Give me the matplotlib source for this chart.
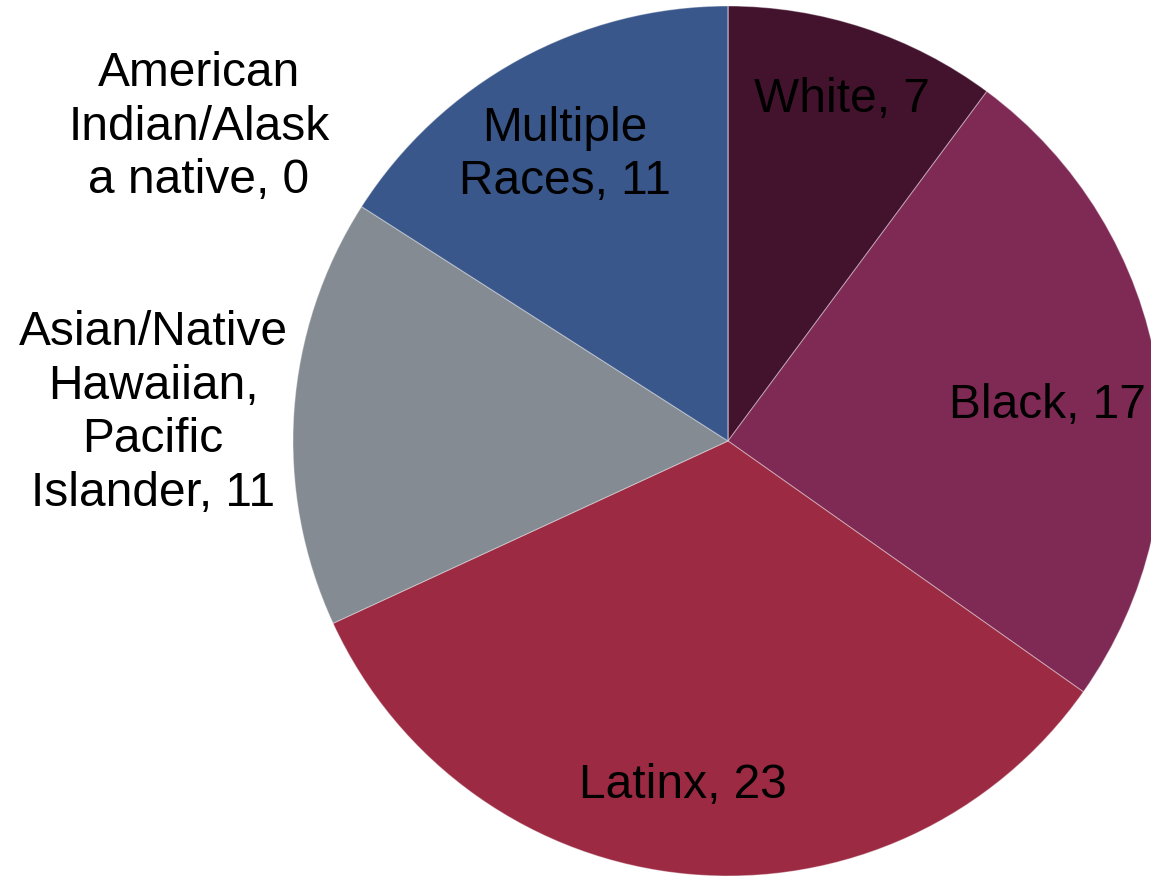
import matplotlib
matplotlib.use("Agg")
import matplotlib.pyplot as plt

categories = ["White", "Black", "Latinx", "Asian/Native\nHawaiian,\nPacific\nIslander",
              "Multiple\nRaces", "American\nIndian/Alask\na native"]
values = [7, 17, 23, 11, 11, 0]
colors = ["#43132D", "#7E2A55", "#9B2A42", "#848B92", "#3A578B", "#3A578B"]
label_pos = [(842, 100), (1047, 405), (683, 786), (153, 413), (565, 155), (199, 127)]

plt.rcParams['font.family'] = ['Liberation Sans', 'DejaVu Sans']
fig = plt.figure(figsize=(11.51, 8.76), dpi=100)
ax = fig.add_axes([0, 0, 1, 1])
ax.axis('off')

cx, cy, r = 728, 441, 435
ax.pie(values, colors=colors, startangle=90, counterclock=False,
       center=(cx, 876 - cy), radius=r,
       wedgeprops=dict(edgecolor=(1, 1, 1, 0.35), linewidth=0.8))
ax.set_xlim(0, 1151)
ax.set_ylim(0, 876)
ax.set_aspect('equal')

for cat, v, (x, y) in zip(categories, values, label_pos):
    ax.text(x, 876 - y, f"{cat}, {v}", ha='center', va='center', fontsize=34.5,
            color='black', linespacing=1.25)

fig.savefig("out.png", dpi=100)
